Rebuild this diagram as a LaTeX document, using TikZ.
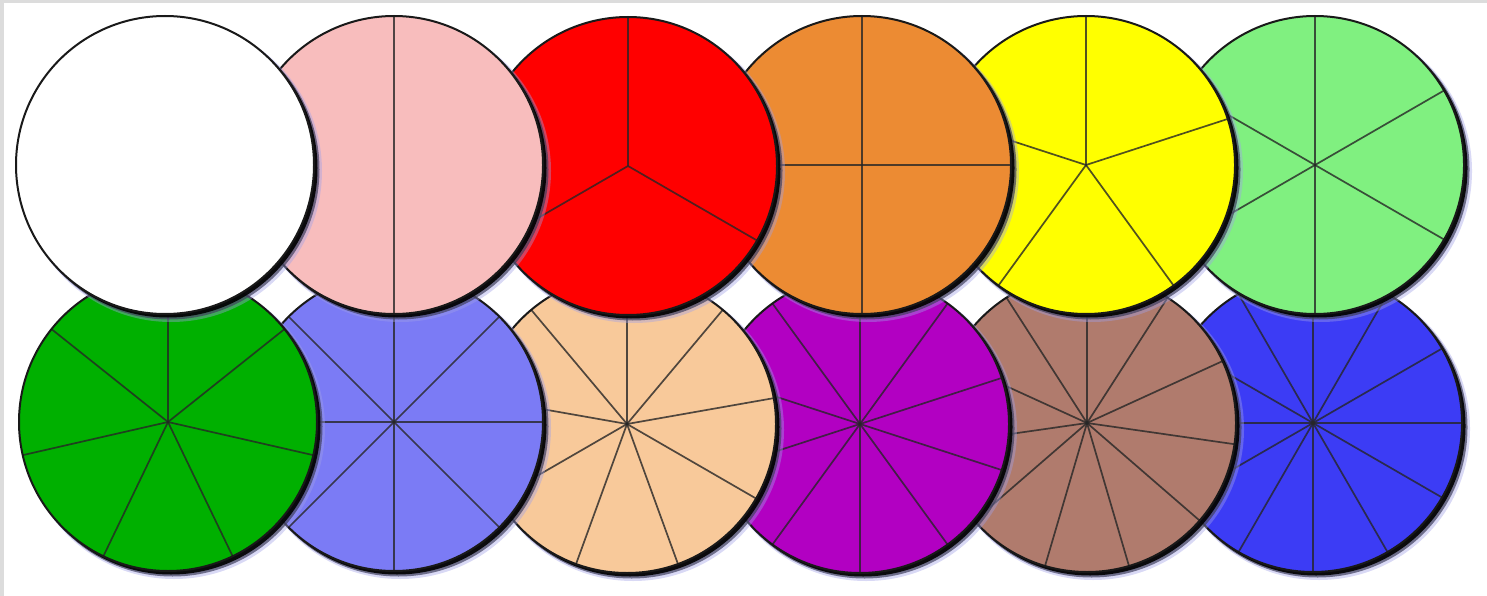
\documentclass[tikz,border=0pt]{standalone}
\definecolor{bggrey}{HTML}{DCDCDC}
\definecolor{halo}{HTML}{A0A0E8}
\definecolor{cwhite}{HTML}{FFFFFF}
\definecolor{cpink}{HTML}{F8BDBD}
\definecolor{cred}{HTML}{FF0000}
\definecolor{corange}{HTML}{EC8B33}
\definecolor{cyellow}{HTML}{FFFF00}
\definecolor{clgreen}{HTML}{80F080}
\definecolor{cdgreen}{HTML}{00B000}
\definecolor{clav}{HTML}{7B7BF5}
\definecolor{cpeach}{HTML}{F8C99A}
\definecolor{cmag}{HTML}{B200C2}
\definecolor{cbrown}{HTML}{B07B6D}
\definecolor{cblue}{HTML}{3C3CF5}
\tikzset{
  haloA/.style={fill=halo, opacity=0.4},
  haloB/.style={fill=black!60!halo, opacity=0.7},
  dropshade/.style={fill=black, opacity=0.9},
  rim/.style={draw=black!90, line width=2pt},
  spoke/.style={draw=black!85, line width=1.7pt, opacity=0.8}
}
\newcommand\fracpie[4]{%
  \fill[haloA] (#1+6,#2+6) circle[radius=151pt];
  \fill[haloB] (#1+4.5,#2+4.5) circle[radius=150pt];
  \fill[dropshade] (#1+3,#2+3) circle[radius=149.5pt];
  \fill[#4] (#1,#2) circle[radius=149pt];
  \ifnum#3>1
    \foreach \k in {1,...,#3}{\draw[spoke] (#1,#2) -- ++({270+360*(\k-1)/#3}:149);}
  \fi
  \draw[rim] (#1,#2) circle[radius=149pt];
}
\begin{document}
\begin{tikzpicture}[x=1pt,y=-1pt]
\useasboundingbox (0,0) rectangle (1487,596);
\fill[bggrey] (0,0) rectangle (1487,596);
\fill[white] (4,3) rectangle (1487,596);
% bottom row, right to left
\fracpie{1313}{423}{12}{cblue}
\fracpie{1087}{423}{11}{cbrown}
\fracpie{860}{424}{10}{cmag}
\fracpie{627}{424}{9}{cpeach}
\fracpie{394}{422}{8}{clav}
\fracpie{168}{422}{7}{cdgreen}
% top row, right to left
\fracpie{1315}{165}{6}{clgreen}
\fracpie{1086}{165}{5}{cyellow}
\fracpie{862}{165}{4}{corange}
\fracpie{628}{166}{3}{cred}
\fracpie{394}{165}{2}{cpink}
\fracpie{165}{165}{1}{cwhite}
\end{tikzpicture}
\end{document}
